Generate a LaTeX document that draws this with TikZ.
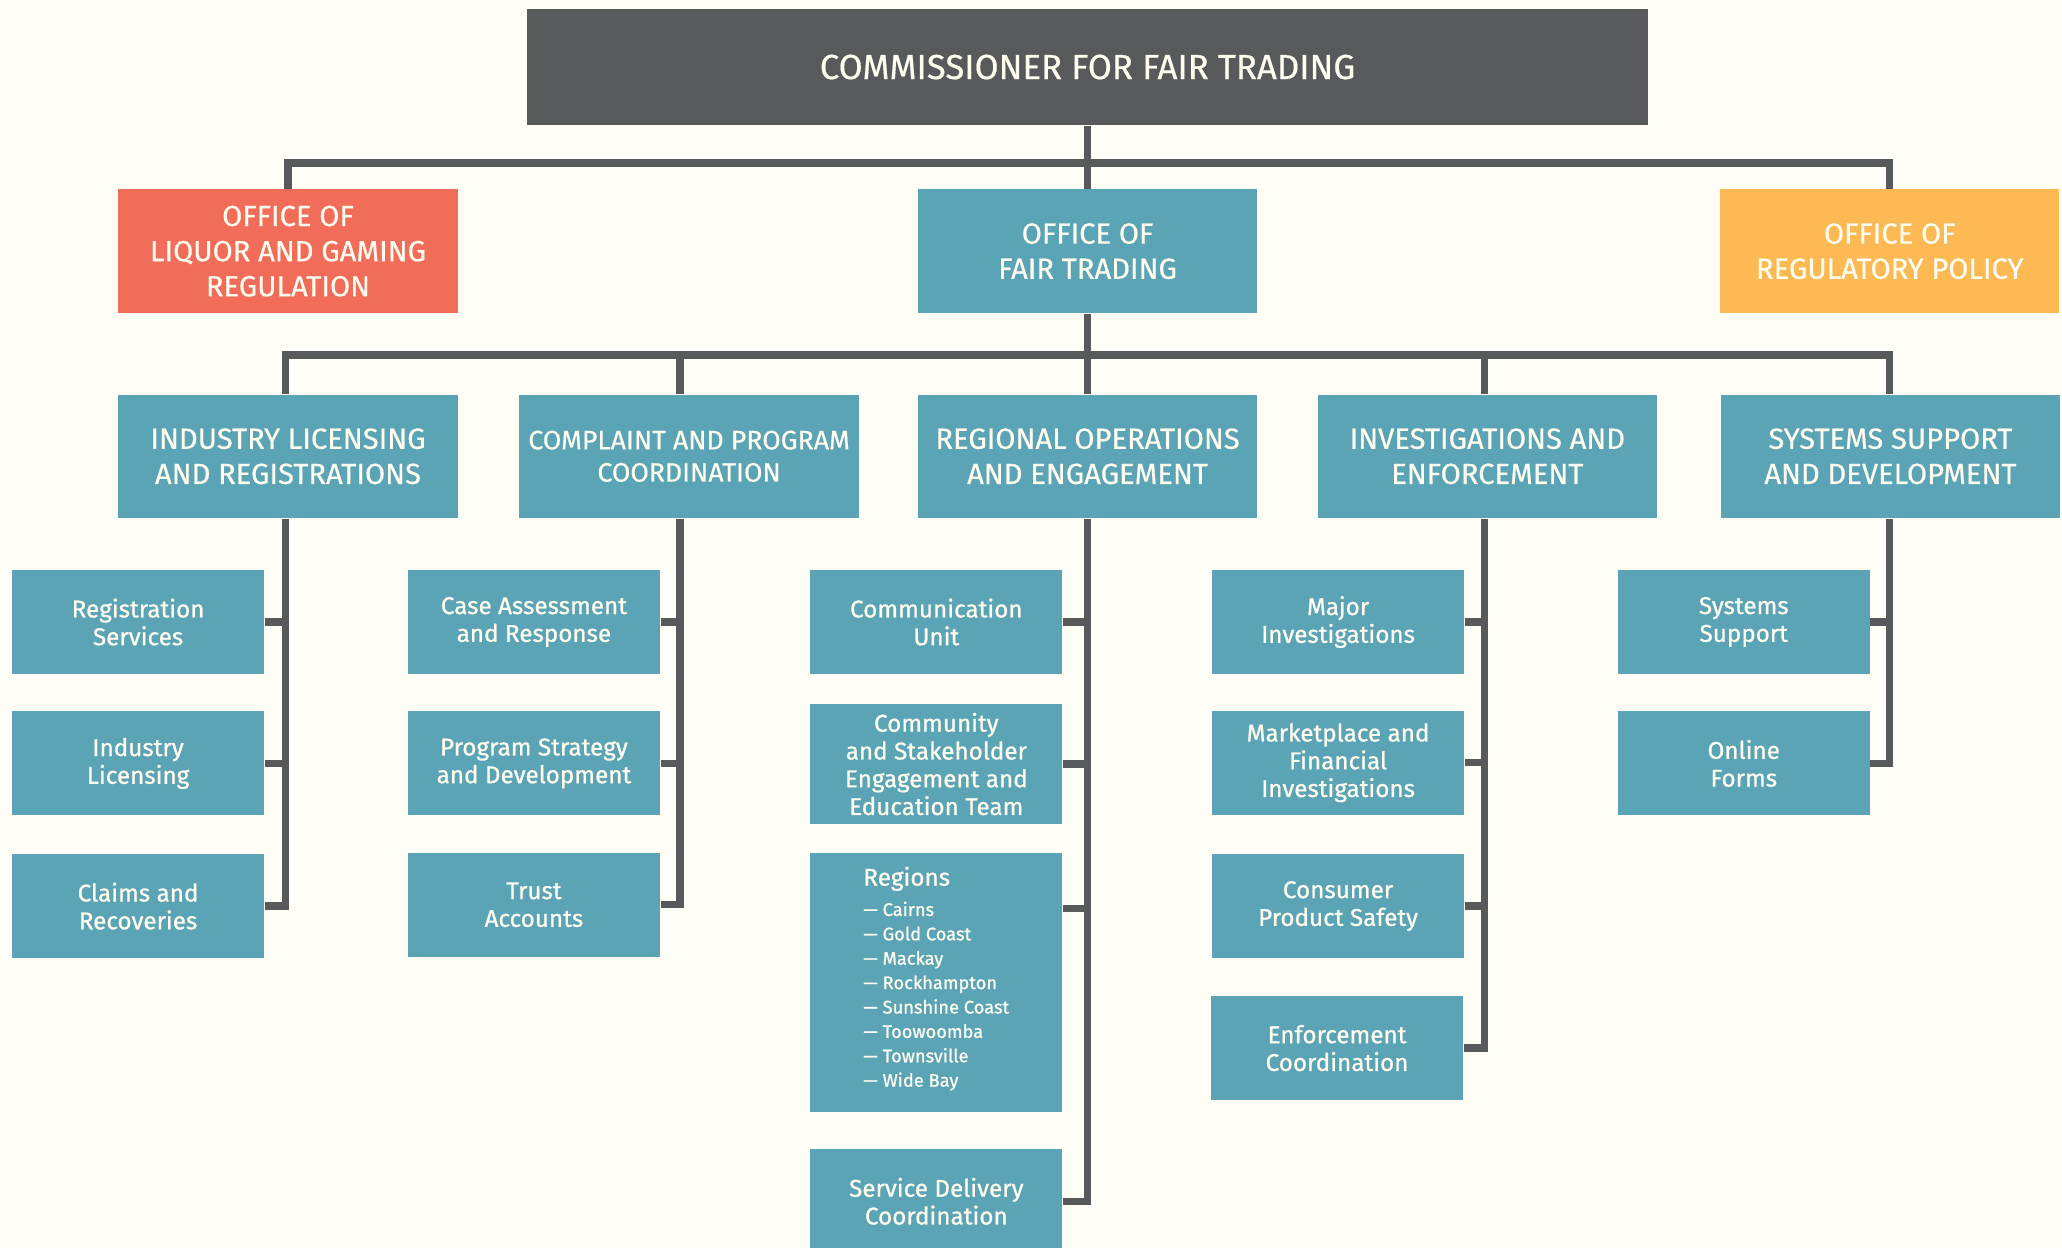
\documentclass[tikz,border=0pt]{standalone}
\usepackage{fontspec}
\setmainfont{Fira Sans}
\newfontfamily\headfont[FakeBold=0.5]{Fira Sans}
\newfontfamily\unitfont[FakeBold=0.8]{Fira Sans}
\usepackage{tikz}

\definecolor{bgcream}{RGB}{255,254,246}
\definecolor{darkgrey}{RGB}{88,89,91}
\definecolor{ftteal}{RGB}{91,164,182}
\definecolor{ftred}{RGB}{242,108,90}
\definecolor{ftorange}{RGB}{253,185,84}
\definecolor{fttext}{RGB}{255,253,240}

\def\dpx{0.01315cm}

\tikzset{
	headbox/.style={fill=darkgrey, minimum width=853*\dpx, minimum height=88*\dpx,
		font=\headfont\fontsize{9.9}{12}\selectfont},
	officebox/.style={minimum width=258*\dpx, minimum height=94*\dpx, align=center,
		font=\headfont\fontsize{8.3}{10}\selectfont},
	unitbox/.style={fill=ftteal, minimum width=191.5*\dpx, minimum height=79*\dpx, align=center,
		font=\unitfont\fontsize{6.9}{7.9}\selectfont},
	link/.style={draw=darkgrey, line width=2.1pt}
}

\begin{document}
\begin{tikzpicture}[x=0.01315cm, y=-0.01315cm, every node/.style={inner sep=0pt, text=fttext}]
	\fill[bgcream] (0,0) rectangle (1568,949);
	\clip (0,0) rectangle (1568,949);
	%
	\node[headbox] (comm) at (827,51) {COMMISSIONER FOR FAIR TRADING};
	\node[officebox, fill=ftred] (olgr) at (219,191) {OFFICE OF\\LIQUOR AND GAMING\\REGULATION};
	\node[officebox, fill=ftteal] (oft) at (827,191) {OFFICE OF\\FAIR TRADING};
	\node[officebox, fill=ftorange] (orp) at (1437,191) {OFFICE OF\\REGULATORY POLICY};
	%
	\node[officebox, fill=ftteal] (ilr) at (219,347) {INDUSTRY LICENSING\\AND REGISTRATIONS};
	\node[officebox, fill=ftteal, font=\headfont\fontsize{7.6}{9.2}\selectfont] (cpc) at (524,347) {COMPLAINT AND PROGRAM\\COORDINATION};
	\node[officebox, fill=ftteal] (roe) at (827,347) {REGIONAL OPERATIONS\\AND ENGAGEMENT};
	\node[officebox, fill=ftteal] (ine) at (1131,347) {INVESTIGATIONS AND\\ENFORCEMENT};
	\node[officebox, fill=ftteal] (ssd) at (1437.5,347) {SYSTEMS SUPPORT\\AND DEVELOPMENT};
	%
	\node[unitbox] (rs) at (105,473) {Registration\\Services};
	\node[unitbox] (il) at (105,580.5) {Industry\\Licensing};
	\node[unitbox] (cr) at (105,689) {Claims and\\Recoveries};
	%
	\node[unitbox] (car) at (406,473) {Case Assessment\\and Response};
	\node[unitbox] (psd) at (406,580.5) {Program Strategy\\and Development};
	\node[unitbox] (ta) at (406,688) {Trust\\Accounts};
	%
	\node[unitbox] (cu) at (712,473) {Communication\\Unit};
	\node[unitbox, minimum height=91*\dpx] (cse) at (712,581) {Community\\and Stakeholder\\Engagement and\\Education Team};
	\node[unitbox, minimum height=197*\dpx] (rgn) at (712,747) {};
	\node[unitbox] (sdc) at (712,913.5) {Service Delivery\\Coordination};
	%
	\node[unitbox] (mi) at (1017.5,473) {Major\\Investigations};
	\node[unitbox] (mfi) at (1017.5,580) {Marketplace and\\Financial\\Investigations};
	\node[unitbox] (cps) at (1017.5,689) {Consumer\\Product Safety};
	\node[unitbox] (ec) at (1016.7,797) {Enforcement\\Coordination};
	%
	\node[unitbox] (ss) at (1326,473) {Systems\\Support};
	\node[unitbox] (of) at (1326,580.5) {Online\\Forms};
	%
	\node[anchor=base west, font=\unitfont\fontsize{6.9}{8}\selectfont] (rgnhead) at (656,673.5) {Regions};
	\foreach \place [count=\i from 0] in {Cairns, Gold Coast, Mackay, Rockhampton, Sunshine Coast, Toowoomba, Townsville, Wide Bay}
		\node[anchor=base west, font=\unitfont\fontsize{5.2}{6}\selectfont] at (656,696.5+18.55*\i) {— \place};
	%
	\coordinate (b1) at (827,124);
	\coordinate (b2) at (827,270);
	\coordinate (sp1) at (217,0);
	\coordinate (sp2) at (517,0);
	\coordinate (sp4) at (1129,0);
	\coordinate (sp5) at (1437,0);
	\coordinate (rgnstub) at ([yshift=-43*\dpx]rgn.north east);
	%
	\draw[link] (comm) -- (oft);
	\draw[link] (olgr.north) |- (b1) -| (orp.north);
	\draw[link] (oft) -- (roe);
	\draw[link] (ilr.north -| sp1) |- (b2 -| sp5) -- (ssd.north -| sp5);
	\draw[link] (cpc.north -| sp2) -- (b2 -| sp2);
	\draw[link] (ine.north -| sp4) -- (b2 -| sp4);
	%
	\draw[link] (ilr.south -| sp1) |- (cr.east);
	\draw[link] (rs.east) -- (rs.east -| sp1);
	\draw[link] (il.east) -- (il.east -| sp1);
	%
	\draw[link] (cpc.south -| sp2) |- (ta.east);
	\draw[link] (car.east) -- (car.east -| sp2);
	\draw[link] (psd.east) -- (psd.east -| sp2);
	%
	\draw[link] (roe.south) |- (sdc.east);
	\draw[link] (cu.east) -- (cu.east -| roe.south);
	\draw[link] (cse.east) -- (cse.east -| roe.south);
	\draw[link] (rgnstub) -- (rgnstub -| roe.south);
	%
	\draw[link] (ine.south -| sp4) |- (ec.east);
	\draw[link] (mi.east) -- (mi.east -| sp4);
	\draw[link] (mfi.east) -- (mfi.east -| sp4);
	\draw[link] (cps.east) -- (cps.east -| sp4);
	%
	\draw[link] (ssd.south -| sp5) |- (of.east);
	\draw[link] (ss.east) -- (ss.east -| sp5);
\end{tikzpicture}
\end{document}
